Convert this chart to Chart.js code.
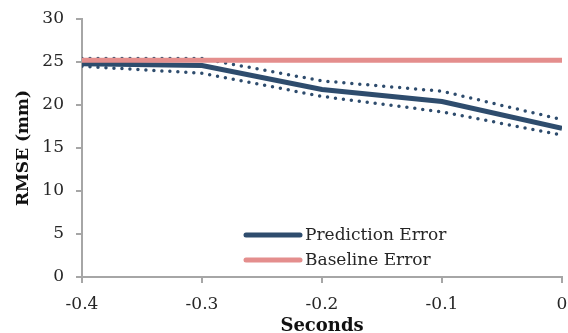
<!DOCTYPE html>
<html>
<head>
<meta charset="utf-8">
<script src="https://cdn.jsdelivr.net/npm/chart.js@4"></script>
<style>
  html, body { margin: 0; padding: 0; background: #fff; }
  #wrap { width: 568px; height: 333px; }
</style>
</head>
<body>
<div id="wrap"><canvas id="rmseChart"></canvas></div>
<script>
// values
const seconds = [-0.4, -0.3, -0.2, -0.1, 0];
const predictionError = [24.8, 24.6, 21.8, 20.4, 17.3];
const upperBound = [25.4, 25.4, 22.8, 21.6, 18.3];
const lowerBound = [24.5, 23.7, 21.0, 19.2, 16.5];
const baselineError = [25.2, 25.2, 25.2, 25.2, 25.2];
const yTicks = [0, 5, 10, 15, 20, 25, 30];

const FONT = "'DejaVu Serif', 'Liberation Serif', serif";
const BLUE = '#2e4c6d';
const PINK = '#e48e8d';
const AXIS = '#a6a6a6';

function pts(vals) {
    return seconds.map((s, i) => ({ x: s, y: vals[i] }));
}

// legend drawn inside the plot, like the original
const insideLegend = {
    id: 'insideLegend',
    afterDraw(chart) {
        const ctx = chart.ctx;
        const items = [
            { text: 'Prediction Error', color: BLUE },
            { text: 'Baseline Error', color: PINK }
        ];
        ctx.save();
        ctx.font = '17px ' + FONT;
        ctx.textBaseline = 'middle';
        items.forEach((item, i) => {
            const y = 235 + i * 25;
            ctx.strokeStyle = item.color;
            ctx.lineWidth = 5;
            ctx.lineCap = 'round';
            ctx.beginPath();
            ctx.moveTo(246, y);
            ctx.lineTo(300, y);
            ctx.stroke();
            ctx.fillStyle = '#262626';
            ctx.fillText(item.text, 305, y + 1);
        });
        ctx.restore();
    }
};

const ctx = document.getElementById('rmseChart');
new Chart(ctx, {
    type: 'line',
    data: {
        datasets: [
            {
                label: 'Baseline Error',
                data: pts(baselineError),
                borderColor: PINK,
                borderWidth: 5,
                pointRadius: 0,
                tension: 0
            },
            {
                label: 'upper',
                data: pts(upperBound),
                borderColor: BLUE,
                borderWidth: 3.5,
                borderDash: [0, 8],
                borderCapStyle: 'round',
                pointRadius: 0,
                tension: 0
            },
            {
                label: 'lower',
                data: pts(lowerBound),
                borderColor: BLUE,
                borderWidth: 3.5,
                borderDash: [0, 8],
                borderCapStyle: 'round',
                pointRadius: 0,
                tension: 0
            },
            {
                label: 'Prediction Error',
                data: pts(predictionError),
                borderColor: BLUE,
                borderWidth: 5,
                pointRadius: 0,
                tension: 0
            }
        ]
    },
    options: {
        responsive: true,
        maintainAspectRatio: false,
        animation: false,
        layout: { padding: { top: 19, right: 6, left: 13, bottom: 0 } },
        plugins: {
            legend: { display: false },
            tooltip: { enabled: false }
        },
        scales: {
            x: {
                type: 'linear',
                min: -0.4,
                max: 0,
                afterBuildTicks: (scale) => {
                    scale.ticks = seconds.map(v => ({ value: v }));
                },
                afterFit: (scale) => {
                    scale.height = 56;
                    scale.paddingLeft = 0;
                    scale.paddingRight = 0;
                },
                ticks: {
                    callback: v => (Math.abs(v) < 1e-9 ? '0' : v.toFixed(1)),
                    color: '#262626',
                    font: { family: FONT, size: 17, lineHeight: 2.2 },
                    padding: 3,
                    maxRotation: 0
                },
                grid: {
                    drawOnChartArea: false,
                    drawTicks: true,
                    tickLength: 6,
                    color: AXIS,
                    lineWidth: 2
                },
                border: { color: AXIS, width: 2 },
                title: {
                    display: true,
                    text: 'Seconds',
                    color: '#111',
                    font: { family: FONT, size: 18, weight: 'bold' },
                    padding: { top: 0, bottom: -4 }
                }
            },
            y: {
                min: 0,
                max: 30,
                afterBuildTicks: (scale) => {
                    scale.ticks = yTicks.map(v => ({ value: v }));
                },
                afterFit: (scale) => {
                    scale.width = 69;
                    scale.paddingTop = 0;
                    scale.paddingBottom = 0;
                },
                ticks: {
                    color: '#262626',
                    font: { family: FONT, size: 17 },
                    padding: 12
                },
                grid: {
                    drawOnChartArea: false,
                    drawTicks: true,
                    tickLength: 6,
                    color: AXIS,
                    lineWidth: 2
                },
                border: { color: AXIS, width: 2 },
                title: {
                    display: true,
                    text: 'RMSE (mm)',
                    color: '#111',
                    font: { family: FONT, size: 17, weight: 'bold' },
                    padding: { top: 0, bottom: 0 }
                }
            }
        }
    },
    plugins: [insideLegend]
});
</script>
</body>
</html>
